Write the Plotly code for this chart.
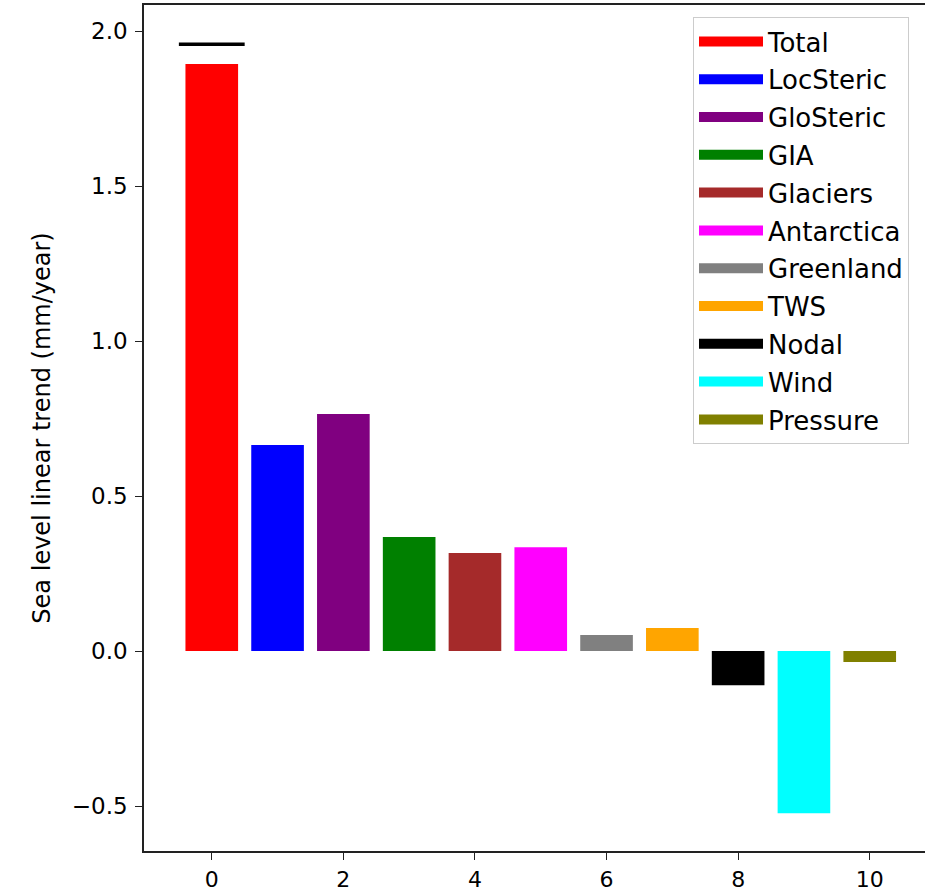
import plotly.graph_objects as go

categories = ["Total", "LocSteric", "GloSteric", "GIA", "Glaciers", "Antarctica",
              "Greenland", "TWS", "Nodal", "Wind", "Pressure"]
values = [1.894, 0.665, 0.765, 0.368, 0.316, 0.335, 0.052, 0.074, -0.110, -0.523, -0.035]
colors = ["red", "blue", "purple", "green", "brown", "magenta", "gray", "orange",
          "black", "cyan", "olive"]
positions = list(range(len(categories)))
total_plus_nodal = 1.957  # black reference line above the Total bar

font = "DejaVu Sans"
fig = go.Figure()

fig.add_trace(go.Bar(x=positions, y=values, width=0.8, marker=dict(color=colors, line=dict(width=0)),
                     showlegend=False, hoverinfo="skip"))

fig.add_trace(go.Scatter(x=[positions[0] - 0.5, positions[0] + 0.5],
                         y=[total_plus_nodal, total_plus_nodal],
                         mode="lines", line=dict(color="black", width=3.5), showlegend=False))

for name, c in zip(categories, colors):
    fig.add_trace(go.Scatter(x=[None], y=[None], mode="lines", name=name,
                             legendgroup=name, line=dict(color=c, width=10)))

fig.update_layout(
    width=925, height=894,
    margin=dict(l=144, r=0, t=5, b=43),
    plot_bgcolor="white", paper_bgcolor="white",
    font=dict(family=font, size=24, color="black"),
    showlegend=True,
    legend=dict(x=(693 - 144) / 781, y=(851 - 17) / 846, xanchor="left", yanchor="top",
                bgcolor="white", bordercolor="#cccccc", borderwidth=1,
                font=dict(size=26), traceorder="grouped", tracegroupgap=1,
                itemwidth=64),
    xaxis=dict(range=[-1.03, 10.84], tickmode="array", tickvals=[0, 2, 4, 6, 8, 10],
               showgrid=False, zeroline=False, showline=True, linecolor="#222",
               linewidth=1.5, mirror=True, ticks="outside", ticklen=7, tickwidth=1.3,
               tickcolor="#222", tickfont=dict(size=22), ticklabelstandoff=1,
               automargin=False),
    yaxis=dict(range=[-0.645, 2.084], tickmode="array",
               tickvals=[-0.5, 0.0, 0.5, 1.0, 1.5, 2.0],
               ticktext=["\u22120.5", "0.0", "0.5", "1.0", "1.5", "2.0"],
               showgrid=False, zeroline=False, showline=True, linecolor="#222",
               linewidth=1.5, mirror=False, ticks="outside", ticklen=7, tickwidth=1.3,
               tickcolor="#222", tickfont=dict(size=23), ticklabelstandoff=3,
               automargin=False,
               title=dict(text="Sea level linear trend (mm/year)", standoff=14,
                          font=dict(size=24))),
)

fig.write_html("out.html", config={"displayModeBar": False},
               post_script="document.body.style.margin='0';")
